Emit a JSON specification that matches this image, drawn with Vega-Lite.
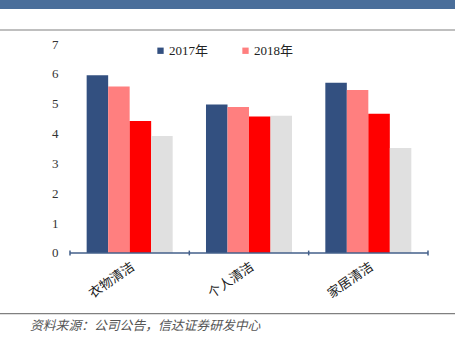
{
  "$schema": "https://vega.github.io/schema/vega-lite/v6.json",
  "width": 455,
  "height": 315,
  "autosize": {"type": "none"},
  "padding": {"left": 0, "right": 0, "top": 0, "bottom": 37},
  "background": "white",
  "config": {"view": {"stroke": null}},
  "title": {
    "text": "资料来源：公司公告，信达证券研发中心",
    "orient": "bottom",
    "anchor": "start",
    "frame": "group",
    "dx": 30,
    "offset": 5,
    "fontSize": 12.8,
    "fontStyle": "italic",
    "fontWeight": "normal",
    "color": "#555555",
    "font": "Noto Sans CJK SC"
  },
  "layer": [
    {
      "data": {"values": [{"band": "header"}]},
      "mark": {"type": "rect", "color": "#4a6e9a"},
      "encoding": {
        "y": {"datum": 8.4737, "type": "quantitative", "scale": {"domain": [-2.0766, 8.4737], "nice": false, "zero": false}},
        "y2": {"datum": 8.1723}
      }
    },
    {
      "data": {"values": [{"line": "top"}]},
      "mark": {"type": "rule", "color": "#808080", "strokeWidth": 1.2},
      "encoding": {
        "y": {"datum": 7.4689, "type": "quantitative", "scale": {"domain": [-2.0766, 8.4737], "nice": false, "zero": false}}
      }
    },
    {
      "data": {"values": [{"line": "bottom"}]},
      "mark": {"type": "rule", "color": "#808080", "strokeWidth": 1.2},
      "encoding": {
        "y": {"datum": -2.03, "type": "quantitative", "scale": {"domain": [-2.0766, 8.4737], "nice": false, "zero": false}}
      }
    },
    {
      "data": {
        "values": [
          {"cat": "衣物清洁", "series": "2017年", "value": 5.95},
          {"cat": "衣物清洁", "series": "2018年", "value": 5.58},
          {"cat": "衣物清洁", "series": "系列3", "value": 4.42},
          {"cat": "衣物清洁", "series": "系列4", "value": 3.92},
          {"cat": "个人清洁", "series": "2017年", "value": 4.97},
          {"cat": "个人清洁", "series": "2018年", "value": 4.89},
          {"cat": "个人清洁", "series": "系列3", "value": 4.57},
          {"cat": "个人清洁", "series": "系列4", "value": 4.6},
          {"cat": "家居清洁", "series": "2017年", "value": 5.7},
          {"cat": "家居清洁", "series": "2018年", "value": 5.46},
          {"cat": "家居清洁", "series": "系列3", "value": 4.66},
          {"cat": "家居清洁", "series": "系列4", "value": 3.52}
        ]
      },
      "mark": {"type": "bar"},
      "encoding": {
        "x": {
          "field": "cat",
          "type": "nominal",
          "scale": {"domain": ["衣物清洁", "个人清洁", "家居清洁"], "paddingInner": 0, "paddingOuter": 0.4064, "align": 0.7216},
          "axis": {
            "title": null,
            "orient": "bottom",
            "offset": -62,
            "domain": false,
            "ticks": false,
            "labelAngle": -35,
            "labelAlign": "right",
            "labelBaseline": "top",
            "labelPadding": 7,
            "labelFontSize": 13,
            "labelFont": "Noto Sans CJK SC",
            "labelColor": "#222222"
          }
        },
        "xOffset": {
          "field": "series",
          "type": "nominal",
          "scale": {"domain": ["2017年", "2018年", "系列3", "系列4"], "paddingInner": 0, "paddingOuter": 0.775}
        },
        "y": {
          "field": "value",
          "type": "quantitative",
          "scale": {"domain": [-2.0766, 8.4737], "nice": false, "zero": false},
          "axis": {
            "values": [0, 1, 2, 3, 4, 5, 6, 7],
            "title": null,
            "domain": false,
            "ticks": false,
            "grid": false,
            "offset": -60,
            "labelPadding": 2,
            "labelFontSize": 13,
            "labelFont": "Liberation Serif",
            "labelColor": "#333333"
          }
        },
        "y2": {"datum": 0},
        "color": {
          "field": "series",
          "type": "nominal",
          "scale": {"domain": ["2017年", "2018年", "系列3", "系列4"], "range": ["#335080", "#ff7f7f", "#ff0000", "#e0e0e0"]},
          "legend": {
            "values": ["2017年", "2018年"],
            "orient": "none",
            "legendX": 154,
            "legendY": 44,
            "direction": "horizontal",
            "title": null,
            "symbolType": "square",
            "symbolSize": 40,
            "symbolStrokeWidth": 0,
            "labelFontSize": 13,
            "labelFont": "Liberation Serif, Noto Sans CJK SC",
            "labelColor": "#222222",
            "columnPadding": 30,
            "labelOffset": 2,
            "padding": 0
          }
        }
      }
    },
    {
      "data": {"values": [{"cat": "衣物清洁"}, {"cat": "个人清洁"}, {"cat": "家居清洁"}]},
      "mark": {"type": "rect", "fillOpacity": 0, "stroke": "#44608a", "strokeWidth": 1.5},
      "encoding": {
        "x": {"field": "cat", "type": "nominal", "scale": {"domain": ["衣物清洁", "个人清洁", "家居清洁"]}},
        "y": {"datum": 0, "type": "quantitative", "scale": {"domain": [-2.0766, 8.4737], "nice": false, "zero": false}},
        "y2": {"datum": 0}
      }
    },
    {
      "data": {"values": [{"cat": "衣物清洁"}, {"cat": "个人清洁"}, {"cat": "家居清洁"}]},
      "mark": {"type": "rule", "color": "#44608a", "strokeWidth": 1.5},
      "encoding": {
        "x": {"field": "cat", "type": "nominal", "bandPosition": 0, "scale": {"domain": ["衣物清洁", "个人清洁", "家居清洁"]}},
        "y": {"datum": -0.08, "type": "quantitative", "scale": {"domain": [-2.0766, 8.4737], "nice": false, "zero": false}},
        "y2": {"datum": 0.08}
      }
    },
    {
      "data": {"values": [{"cat": "家居清洁"}]},
      "mark": {"type": "rule", "color": "#44608a", "strokeWidth": 1.5},
      "encoding": {
        "x": {"field": "cat", "type": "nominal", "bandPosition": 1, "scale": {"domain": ["衣物清洁", "个人清洁", "家居清洁"]}},
        "y": {"datum": -0.08, "type": "quantitative", "scale": {"domain": [-2.0766, 8.4737], "nice": false, "zero": false}},
        "y2": {"datum": 0.08}
      }
    }
  ]
}
